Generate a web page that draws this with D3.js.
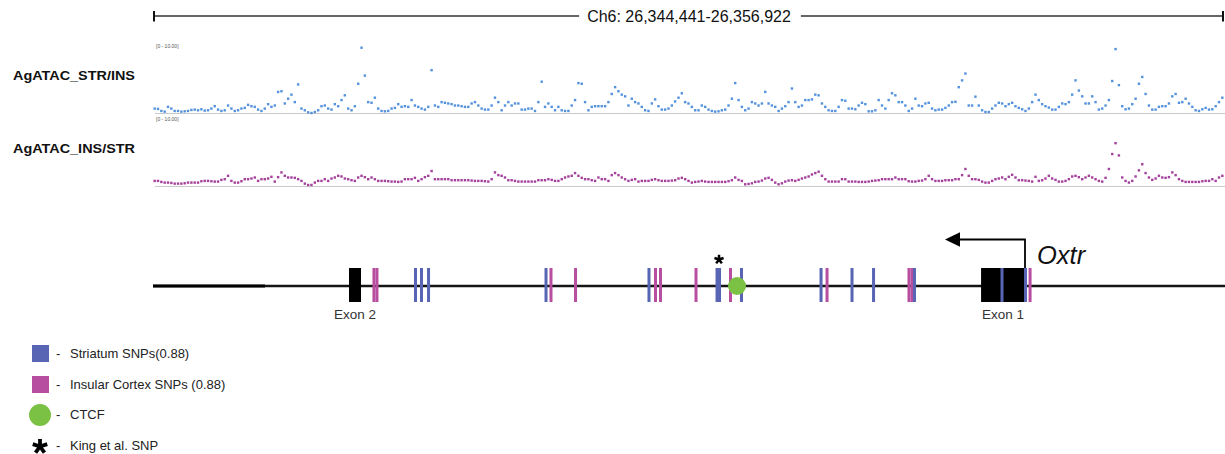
<!DOCTYPE html>
<html>
<head>
<meta charset="utf-8">
<script src="https://cdn.jsdelivr.net/npm/d3@7"></script>
<style>
  body { margin: 0; background: #fff; }
  svg { display: block; font-family: Arial, "Liberation Sans", sans-serif; }
</style>
</head>
<body>
<svg id="chart" width="1225" height="454"></svg>
<script>
// Genomic window shown on the ruler
const regionStart = 26344441;
const regionEnd = 26356922;
const regionLabel = "Ch6: 26,344,441-26,356,922";

// Track names and their data range
const trackNames = ["AgATAC_STR/INS", "AgATAC_INS/STR"];
const dataRangeLabel = "[0 - 10.00]";
const dataRange = [0, 10];

// Allele-specific ATAC signal, one value per equal-width bin across the window
const strSignal = [
  0.65,0.6,0.3,0.2,0.9,0.65,0.3,0.3,0.2,0.25,
  0.3,0.45,0.5,0.4,0.55,0.35,0.4,0.65,1.0,0.5,
  0.3,0.4,1.1,0.65,0.3,0.4,0.65,0.75,1.2,1.0,
  0.9,0.5,0.3,0.65,1.3,0.9,1.1,3.1,3.2,1.4,
  2.1,2.7,1.6,4.2,0.65,0.4,0.1,0.0,0.15,0.4,
  1.0,1.1,0.65,0.5,1.3,1.0,1.9,2.6,0.65,0.4,
  1.0,4.3,9.6,5.5,1.6,1.5,2.25,0.65,0.3,0.25,
  0.3,0.65,0.75,1.3,0.9,1.0,0.9,1.9,1.1,0.9,
  0.65,0.5,0.9,6.3,1.1,0.9,1.6,1.5,1.4,1.3,
  1.1,1.1,1.0,0.9,0.9,1.4,1.6,1.1,0.65,0.5,
  0.5,1.1,2.25,1.6,0.4,1.1,1.6,1.1,1.4,1.4,
  0.5,0.5,0.65,0.65,0.3,1.6,4.6,0.9,1.4,0.9,
  0.4,0.9,0.4,0.3,0.3,1.1,1.9,4.4,4.3,1.6,
  0.4,0.9,1.0,1.0,1.0,1.0,1.6,2.8,3.8,3.2,
  2.7,2.45,1.1,2.1,1.6,1.4,0.9,0.4,0.3,1.4,
  2.0,1.0,0.5,0.5,0.65,1.1,1.7,2.25,2.9,1.6,
  1.4,0.9,0.4,0.4,1.1,0.9,0.5,0.3,0.2,0.25,
  0.4,0.5,1.1,2.1,4.4,1.9,0.9,0.4,0.65,1.6,
  1.4,1.1,1.4,3.1,1.4,1.1,0.9,0.3,0.65,1.0,
  1.6,3.6,1.6,0.9,1.1,1.9,1.9,2.0,2.7,2.6,
  1.4,0.9,0.4,0.3,0.3,0.9,1.9,1.8,0.65,0.65,
  0.55,1.1,1.5,1.3,0.25,0.25,0.4,1.9,1.1,0.65,
  1.9,2.9,2.6,1.6,1.6,1.1,0.3,0.65,2.1,1.1,
  1.0,1.4,1.5,0.65,0.4,0.5,0.5,0.75,1.1,1.6,
  1.65,3.8,4.8,5.8,1.1,1.1,2.4,1.1,0.4,0.15,
  0.15,0.65,1.1,1.5,1.4,1.0,1.3,1.5,1.0,0.75,
  0.55,0.3,0.65,1.6,2.7,1.9,1.3,1.0,0.8,0.5,
  0.5,0.9,1.4,1.3,1.6,2.7,4.8,3.3,2.45,1.4,
  1.4,2.45,1.6,0.5,0.65,1.1,1.9,4.7,9.4,4.1,
  1.0,0.55,0.65,1.3,2.1,4.3,5.3,2.8,1.1,0.5,
  0.5,0.9,1.0,1.0,1.4,2.45,2.8,1.5,1.6,2.1,
  1.4,0.9,0.4,0.3,0.55,0.75,0.5,0.55,1.0,1.6,2.25
];

const insSignal = [
  0.75,0.75,0.6,0.5,0.5,0.45,0.35,0.35,0.35,0.4,
  0.5,0.5,0.5,0.5,0.7,0.75,0.75,0.7,0.65,0.65,
  0.9,1.0,1.5,0.75,0.5,0.5,0.7,1.0,1.0,1.1,
  1.25,0.75,1.0,1.0,1.1,1.35,0.65,1.3,2.0,1.5,
  1.25,1.25,1.2,1.0,0.75,0.35,0.15,0.15,0.5,0.75,
  0.75,1.0,0.75,1.1,1.25,1.5,1.4,1.1,1.0,0.85,
  0.75,1.25,1.5,1.3,1.0,1.25,1.0,0.75,0.75,0.75,
  0.7,0.65,0.65,0.6,0.65,1.0,1.0,1.0,1.2,0.75,
  1.0,1.3,1.5,2.2,1.0,1.0,1.0,1.0,1.0,0.85,
  0.85,0.85,0.85,0.85,0.85,0.8,0.75,0.75,0.75,0.7,
  0.65,1.0,2.0,1.6,1.5,1.25,0.85,0.85,0.75,0.65,
  0.65,0.65,0.65,0.65,0.65,0.85,0.85,0.85,1.0,0.9,
  0.75,0.75,1.0,1.25,1.4,1.5,1.9,1.5,1.2,1.0,
  1.0,0.85,0.75,1.25,1.0,1.0,0.75,1.6,1.9,1.6,
  1.25,1.0,0.75,0.9,1.0,0.65,0.75,0.75,0.75,0.9,
  1.0,0.85,0.75,0.75,0.75,0.8,0.85,1.1,1.2,1.0,
  0.75,0.5,0.6,0.65,0.75,0.65,0.6,0.6,0.6,0.6,
  0.6,0.6,0.7,0.85,1.25,0.9,0.75,0.25,0.3,0.4,
  0.6,0.65,0.8,1.1,1.2,0.9,0.5,0.25,0.4,0.65,
  0.8,0.85,0.75,0.9,1.1,1.25,1.4,1.7,1.9,2.1,
  1.5,1.0,0.65,0.65,0.65,0.65,1.0,1.0,0.65,0.65,
  0.65,0.6,0.6,0.6,0.65,0.75,0.8,0.85,1.0,1.0,
  1.0,1.0,1.25,1.0,1.0,1.0,0.7,0.65,0.65,0.75,
  0.8,1.0,1.5,1.0,0.75,0.75,0.75,0.85,0.85,0.85,
  1.0,1.0,1.6,2.5,1.5,1.0,1.0,0.9,0.65,0.5,
  0.5,0.75,1.0,1.1,1.25,1.0,1.35,1.65,1.25,0.85,
  0.85,0.8,0.75,0.65,1.35,0.75,0.85,1.1,1.5,1.1,
  0.9,0.65,0.65,0.75,1.0,1.4,1.5,1.3,1.0,1.25,
  1.5,1.25,1.0,0.75,0.65,1.2,2.5,4.7,6.3,4.5,
  1.25,0.75,0.5,0.75,1.4,2.3,3.2,1.9,1.25,0.9,
  1.1,1.5,1.25,1.2,1.3,2.0,1.6,1.0,0.75,0.6,
  0.6,0.6,0.6,0.6,0.7,0.75,0.75,1.0,0.75,1.25,1.5
];

// Gene model and variants (genomic coordinates)
const geneName = "Oxtr";
const exons = [
  { name: "Exon 2", start: 26346725, end: 26346865 },
  { name: "Exon 1", start: 26354091, end: 26354603 }
];
const tssPos = 26354603;
const arrowTipPos = 26353671;
const striatumSnps = [26347500, 26347570, 26347652, 26349021, 26350221, 26351014, 26351043,
  26351299, 26352226, 26352587, 26352838, 26353315, 26354335, 26354609];
const insularSnps = [26347016, 26347051, 26349079, 26349365, 26350297, 26350355, 26350769,
  26351171, 26352296, 26353251, 26353286, 26354662];
const ctcfSites = [26351247];
const kingSnps = [26351029];

// Legend
const legendLabels = ["Striatum SNPs(0.88)", "Insular Cortex SNPs (0.88)", "CTCF", "King et al. SNP"];
const legendKinds = ["striatum", "insular", "ctcf", "king"];

const colors = {
  striatum: "#5865b4",
  insular: "#b74ea0",
  ctcf: "#7bc143",
  strDots: "#5592dc",
  insDots: "#a4419c"
};

const svg = d3.select("#chart");
svg.append("rect").attr("width", 1225).attr("height", 454).attr("fill", "#fff");

const x = d3.scaleLinear().domain([regionStart, regionEnd]).range([153, 1224]);

// ---- Ruler ----
const ruler = svg.append("g");
const rulerY = 16;
const rulerText = ruler.append("text")
  .attr("x", 689).attr("y", 21.5)
  .attr("text-anchor", "middle")
  .attr("font-size", 16)
  .attr("fill", "#111")
  .text(regionLabel);
const tw = rulerText.node().getComputedTextLength();
ruler.append("line").attr("x1", x(regionStart)).attr("x2", 689 - tw / 2 - 8)
  .attr("y1", rulerY).attr("y2", rulerY).attr("stroke", "#333").attr("stroke-width", 1.4);
ruler.append("line").attr("x1", 689 + tw / 2 + 10).attr("x2", x(regionEnd) - 1)
  .attr("y1", rulerY).attr("y2", rulerY).attr("stroke", "#333").attr("stroke-width", 1.4);
[x(regionStart) + 1, x(regionEnd) - 1].forEach(px => {
  ruler.append("line").attr("x1", px).attr("x2", px).attr("y1", 11).attr("y2", 21.5)
    .attr("stroke", "#111").attr("stroke-width", 2);
});

// ---- Signal tracks ----
function drawTrack(values, name, top, bottom, color, labelY) {
  const g = svg.append("g");
  const y = d3.scaleLinear().domain(dataRange).range([bottom, top]);
  const bin = (regionEnd - regionStart) / values.length;
  g.append("text").attr("x", 13).attr("y", labelY)
    .attr("font-size", 13).attr("font-weight", "bold").attr("fill", "#111")
    .attr("textLength", 122).attr("lengthAdjust", "spacingAndGlyphs")
    .text(name);
  g.append("line").attr("x1", 155).attr("x2", 1225)
    .attr("y1", bottom + 0.5).attr("y2", bottom + 0.5)
    .attr("stroke", "#c9c9c9").attr("stroke-width", 1);
  g.append("text").attr("x", 156).attr("y", top + 3)
    .attr("font-size", 5).attr("fill", "#555").text(dataRangeLabel);
  g.selectAll("rect.dot").data(values).join("rect")
    .attr("class", "dot")
    .attr("x", (d, i) => x(regionStart + (i + 0.5) * bin) - 1.2)
    .attr("y", d => y(d) - 1.2)
    .attr("width", 2.4).attr("height", 2.4)
    .attr("fill", color);
}
drawTrack(strSignal, trackNames[0], 45, 113, colors.strDots, 79.5);
drawTrack(insSignal, trackNames[1], 118, 186, colors.insDots, 153);

// ---- Gene track ----
const gy = 286, tickTop = 268, tickBottom = 302;
const gene = svg.append("g");
gene.append("line").attr("x1", 153).attr("x2", 1225).attr("y1", gy).attr("y2", gy)
  .attr("stroke", "#151515").attr("stroke-width", 2.6);
gene.append("line").attr("x1", 153).attr("x2", 265).attr("y1", gy).attr("y2", gy)
  .attr("stroke", "#000").attr("stroke-width", 2.9);

gene.selectAll("rect.exon").data(exons).join("rect")
  .attr("class", "exon")
  .attr("x", d => x(d.start)).attr("width", d => x(d.end) - x(d.start))
  .attr("y", tickTop).attr("height", tickBottom - tickTop)
  .attr("fill", "#000");
gene.selectAll("text.exonLabel").data(exons).join("text")
  .attr("class", "exonLabel")
  .attr("x", d => (x(d.start) + x(d.end)) / 2).attr("y", 319)
  .attr("text-anchor", "middle").attr("font-size", 13.5).attr("fill", "#333")
  .text(d => d.name);

function snpTicks(list, color) {
  gene.selectAll(null).data(list).join("rect")
    .attr("x", d => x(d) - 1.5).attr("width", 3)
    .attr("y", tickTop).attr("height", tickBottom - tickTop)
    .attr("fill", color);
}
snpTicks(insularSnps, colors.insular);
snpTicks(striatumSnps, colors.striatum);

gene.selectAll("circle.ctcf").data(ctcfSites).join("circle")
  .attr("class", "ctcf").attr("cx", d => x(d)).attr("cy", gy).attr("r", 9)
  .attr("fill", colors.ctcf);

// Five-armed asterisk marker
function asterisk(cx, cy, r) {
  let d = "";
  for (let k = 0; k < 5; k++) {
    const a = (-90 + k * 72) * Math.PI / 180;
    d += `M${cx},${cy}L${cx + r * Math.cos(a)},${cy + r * Math.sin(a)}`;
  }
  return d;
}
gene.selectAll("path.king").data(kingSnps).join("path")
  .attr("class", "king").attr("d", d => asterisk(x(d) + 0.7, 259.5, 4.8))
  .attr("stroke", "#000").attr("stroke-width", 2.5).attr("fill", "none");

// Transcription start arrow and gene name
gene.append("path")
  .attr("d", `M${x(tssPos)},${tickTop}V239.5H${x(arrowTipPos) + 14}`)
  .attr("stroke", "#000").attr("stroke-width", 1.8).attr("fill", "none");
gene.append("path")
  .attr("d", `M${x(arrowTipPos)},239.5L${x(arrowTipPos) + 15},232.3L${x(arrowTipPos) + 15},246.7Z`)
  .attr("fill", "#000");
gene.append("text").attr("x", x(tssPos) + 12).attr("y", 263.5)
  .attr("font-size", 25.5).attr("font-style", "italic").attr("fill", "#111")
  .text(geneName);

// ---- Legend ----
const legend = svg.append("g");
const legendRowY = [353.5, 384.5, 415, 446];
legendKinds.forEach((kind, i) => {
  const cy = legendRowY[i];
  if (kind === "striatum" || kind === "insular") {
    legend.append("rect").attr("x", 32).attr("y", cy - 8.5).attr("width", 17).attr("height", 17)
      .attr("fill", colors[kind]);
  } else if (kind === "ctcf") {
    legend.append("circle").attr("cx", 40).attr("cy", cy).attr("r", 11).attr("fill", colors.ctcf);
  } else {
    legend.append("path").attr("d", asterisk(40, cy + 0.5, 7.6))
      .attr("stroke", "#000").attr("stroke-width", 3.8).attr("fill", "none");
  }
  legend.append("text").attr("x", 56).attr("y", cy + 4)
    .attr("font-size", 13).attr("fill", "#222").text("-");
  legend.append("text").attr("x", 70).attr("y", cy + 4)
    .attr("font-size", 13).attr("fill", "#222").text(legendLabels[i]);
});
</script>
</body>
</html>
